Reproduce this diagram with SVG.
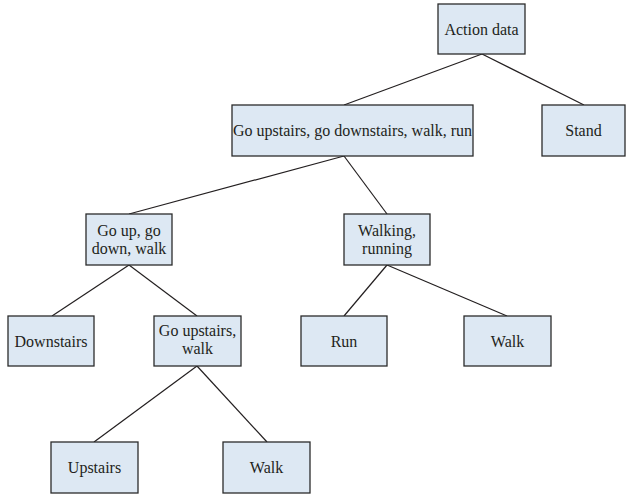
<svg xmlns="http://www.w3.org/2000/svg" width="626" height="494" viewBox="0 0 626 494">
<style>
.n rect{fill:#dde8f3;stroke:#2b2b2b;stroke-width:1.3}
.n text{font-family:"Liberation Serif","Times New Roman",serif;font-size:16px;fill:#231f20;text-anchor:middle}
#edges line{stroke:#231f20;stroke-width:1.2}
</style>
<rect width="626" height="494" fill="#ffffff"/>
<g id="edges">
<line x1="482" y1="54" x2="344" y2="105"/>
<line x1="482" y1="54" x2="584" y2="105"/>
<line x1="344" y1="156" x2="129" y2="214"/>
<line x1="344" y1="156" x2="387" y2="214"/>
<line x1="129" y1="265" x2="52" y2="316"/>
<line x1="129" y1="265" x2="197" y2="316"/>
<line x1="387" y1="265" x2="344" y2="316"/>
<line x1="387" y1="265" x2="507" y2="316"/>
<line x1="197" y1="366" x2="94" y2="442"/>
<line x1="197" y1="366" x2="267" y2="442"/>
</g>
<g id="action" class="n"><rect x="438" y="4" width="87" height="50"/><text x="481.5" y="34.5">Action data</text></g>
<g id="all" class="n"><rect x="232" y="105" width="241" height="51"/><text x="352.5" y="136">Go upstairs, go downstairs, walk, run</text></g>
<g id="stand" class="n"><rect x="542" y="105" width="83" height="51"/><text x="583.5" y="136">Stand</text></g>
<g id="goup" class="n"><rect x="86" y="214" width="86" height="51"/><text x="129" y="235.5">Go up, go</text><text x="129" y="253.5">down, walk</text></g>
<g id="walkrun" class="n"><rect x="344" y="214" width="86" height="51"/><text x="387" y="235.5">Walking,</text><text x="387" y="253.5">running</text></g>
<g id="downstairs" class="n"><rect x="8" y="316" width="86" height="50"/><text x="51" y="346.5">Downstairs</text></g>
<g id="upwalk" class="n"><rect x="154" y="316" width="87" height="50"/><text x="197.5" y="336">Go upstairs,</text><text x="197.5" y="354">walk</text></g>
<g id="run" class="n"><rect x="301" y="316" width="86" height="50"/><text x="344" y="346.5">Run</text></g>
<g id="walk1" class="n"><rect x="464" y="316" width="87" height="50"/><text x="507.5" y="346.5">Walk</text></g>
<g id="upstairs" class="n"><rect x="51" y="442" width="87" height="51"/><text x="94.5" y="473">Upstairs</text></g>
<g id="walk2" class="n"><rect x="223" y="442" width="87" height="51"/><text x="266.5" y="473">Walk</text></g>
</svg>
